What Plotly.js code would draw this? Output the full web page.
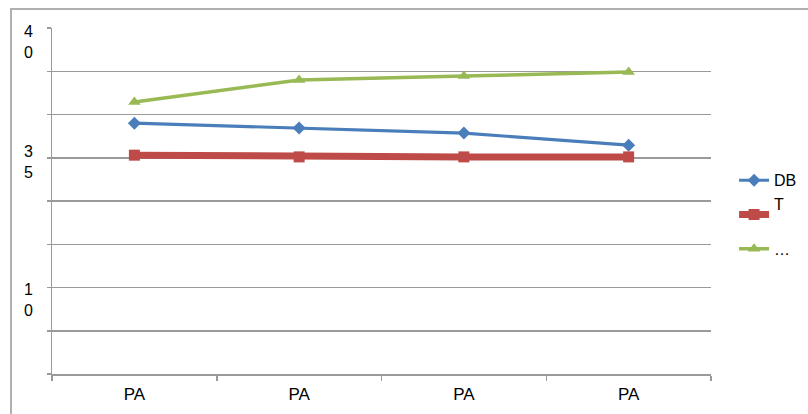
<!DOCTYPE html>
<html>
<head>
<meta charset="utf-8">
<script src="https://cdn.plot.ly/plotly-3.0.1.min.js"></script>
<style>
  html, body { margin:0; padding:0; background:#fff; overflow:hidden; }
  #frame { position:absolute; left:10px; top:8px; width:900px; height:500px;
           border-left:2px solid #b0b0b0; border-top:2px solid #b0b0b0; pointer-events:none; }
  #chart { position:absolute; left:0; top:0; width:808px; height:414px; }
</style>
</head>
<body>
<div id="chart"></div>
<div id="frame"></div>
<script>
// ---- data ----
var categories = ["PA", "PA", "PA", "PA"];
var seriesNames = ["DB", "T<br>&nbsp;", "…"];
var dbValues = [5.80, 5.69, 5.57, 5.29];
var tValues = [5.06, 5.02, 5.02, 5.02];
var gValues = [6.29, 6.80, 6.89, 6.98];
var gridTicks = [0, 1, 2, 3, 4, 5, 6, 7, 8];
var yLabelVals = [7.68, 4.90, 1.71];
var yLabelText = ["4<br>0", "3<br>5", "1<br>0"];

var idx = categories.map(function (c, i) { return i; });
var font = "Liberation Sans, Arial, sans-serif";

var traces = [
  { x: idx, y: dbValues, name: seriesNames[0], type: "scatter", mode: "lines+markers",
    line: { color: "#4A7EBB", width: 3.2 },
    marker: { symbol: "diamond", size: 10, color: "#4A7EBB" } },
  { x: idx, y: tValues, name: seriesNames[1], type: "scatter", mode: "lines+markers",
    line: { color: "#BE4B48", width: 7 },
    marker: { symbol: "square", size: 11, color: "#BE4B48" } },
  { x: idx, y: gValues, name: seriesNames[2], type: "scatter", mode: "lines+markers",
    line: { color: "#98B954", width: 3.5 },
    marker: { symbol: "triangle-up", size: 11, color: "#98B954" } },
  { x: [], y: [], yaxis: "y2", showlegend: false, hoverinfo: "skip", type: "scatter" }
];

var layout = {
  width: 808, height: 414,
  margin: { l: 52, r: 97, t: 28, b: 40, autoexpand: false },
  paper_bgcolor: "#ffffff", plot_bgcolor: "#ffffff",
  showlegend: true,
  font: { family: font, size: 16, color: "#000" },
  xaxis: {
    type: "category",
    range: [-0.5, 3.5],
    tickmode: "array", tickvals: idx, ticktext: categories,
    tickson: "boundaries",
    ticks: "outside", ticklen: 5, tickwidth: 1.5, tickcolor: "#9a9a9a",
    showgrid: false, zeroline: false,
    showline: true, linecolor: "#9a9a9a", linewidth: 1.5,
    ticklabelstandoff: 4,
    tickfont: { family: font, size: 17, color: "#000" },
    fixedrange: true
  },
  yaxis: {
    range: [0, 8],
    tickmode: "array", tickvals: gridTicks, ticktext: gridTicks.map(function () { return ""; }),
    ticks: "outside", ticklen: 4, tickwidth: 1.5, tickcolor: "#9a9a9a",
    showgrid: true, gridcolor: "#9a9a9a", gridwidth: 1.5,
    zeroline: false, showline: true, linecolor: "#9a9a9a", linewidth: 1.5,
    fixedrange: true
  },
  yaxis2: {
    overlaying: "y", anchor: "x", side: "left",
    range: [0, 8],
    tickmode: "array", tickvals: yLabelVals, ticktext: yLabelText,
    ticks: "", showgrid: false, zeroline: false, showline: false,
    ticklabelstandoff: 18,
    tickfont: { family: font, size: 16, color: "#000" },
    fixedrange: true
  },
  legend: {
    x: 1.035, xanchor: "left", y: 0.46, yanchor: "middle",
    font: { family: font, size: 16, color: "#000" },
    tracegroupgap: 0, itemwidth: 30, valign: "middle",
    bgcolor: "rgba(0,0,0,0)"
  }
};

Plotly.newPlot("chart", traces, layout, { displayModeBar: false, staticPlot: true });
</script>
</body>
</html>
